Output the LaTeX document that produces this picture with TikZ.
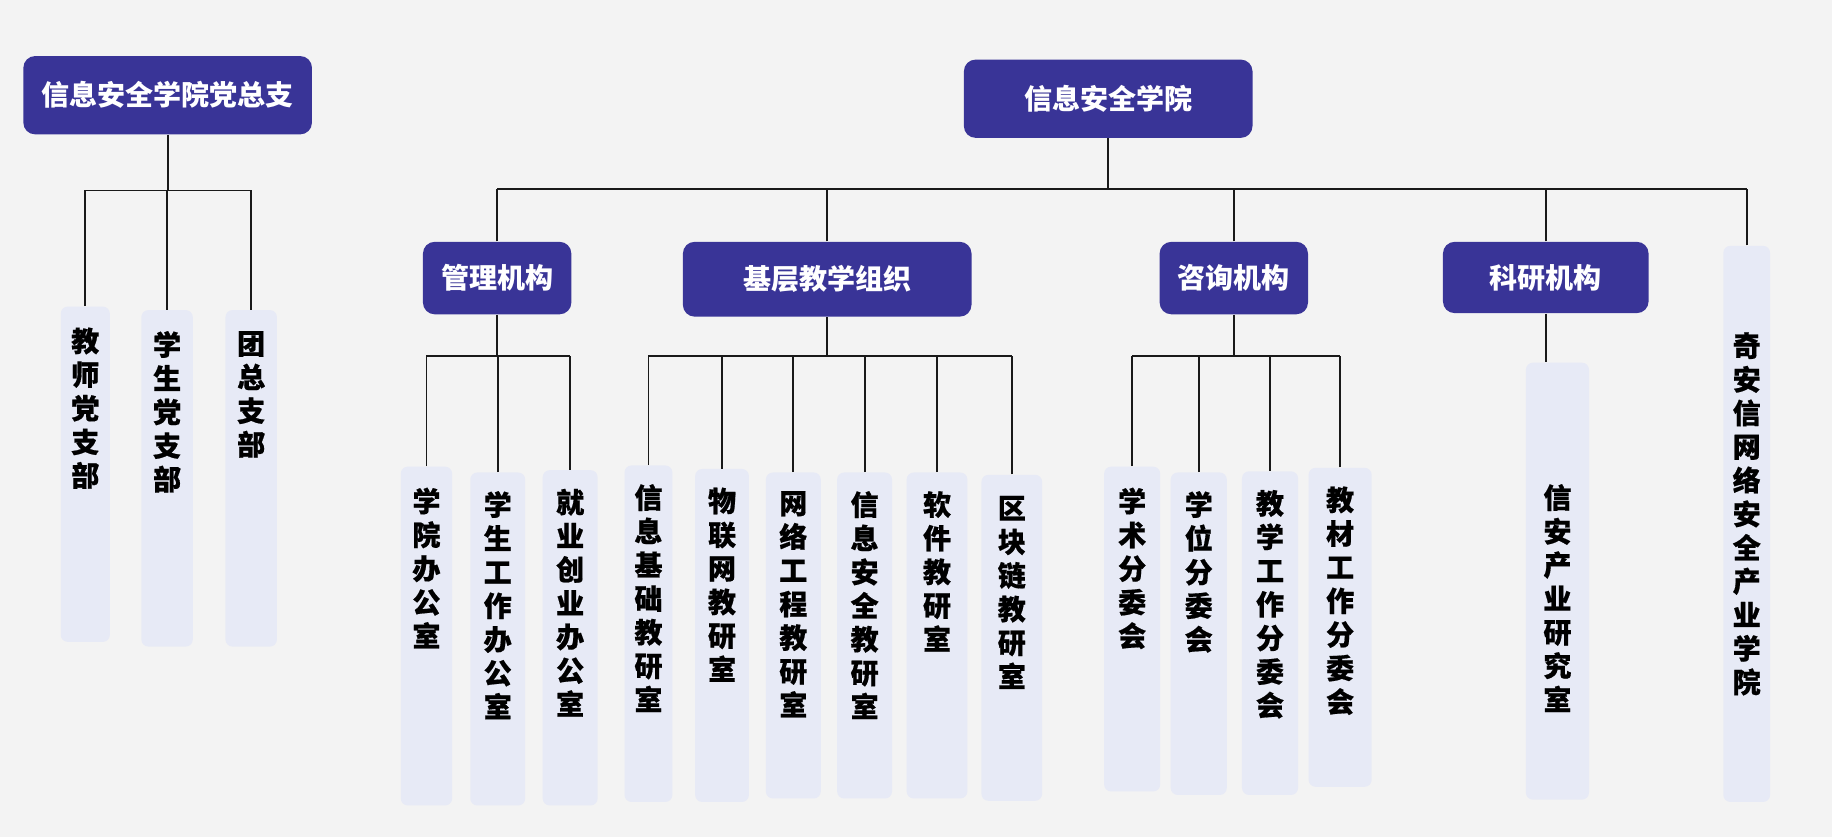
\documentclass[tikz,border=0pt]{standalone}
\usepackage{fontspec}
\setmainfont{Noto Sans CJK SC}
\newfontfamily\leafcjk{Noto Sans CJK SC}[FakeBold=0.6]
\usepackage{tikz}

\definecolor{hdbg}{RGB}{57,52,151}
\definecolor{leafbg}{RGB}{231,234,246}
\definecolor{pagebg}{RGB}{243,243,243}
\definecolor{wire}{RGB}{25,25,25}
\newcommand{\vlabel}[3]{\parbox[t][#1][t]{1em}{\centering\vspace*{#2}#3}}

\begin{document}
\begin{tikzpicture}[x=0.5pt, y=-0.5pt,
  hdr/.style={fill=hdbg, text=white, rounded corners=5pt, inner sep=0pt,
    font=\fontsize{12}{14}\selectfont\bfseries},
  leaf/.style={anchor=north, fill=leafbg, rounded corners=3pt, inner sep=0pt,
    font=\leafcjk\fontsize{12}{14.4}\selectfont\bfseries},
  wire/.style={draw=wire, line width=0.8pt}]

  \fill[pagebg] (0,0) rectangle (1568,716);
  \useasboundingbox (0,0) rectangle (1568,716);

  \node[hdr, minimum width=123.5pt, minimum height=33.5pt] (proot) at (143.5,81.5) {信息安全学院党总支};
  \node[hdr, minimum width=123.5pt, minimum height=33.5pt] (root) at (948.5,84.5) {信息安全学院};
  \node[hdr, minimum width=63.5pt, minimum height=31pt] (mgmt) at (425.5,238) {管理机构};
  \node[hdr, minimum width=123.5pt, minimum height=32pt] (teach) at (708,239) {基层教学组织};
  \node[hdr, minimum width=63.5pt, minimum height=31pt] (advis) at (1056,238) {咨询机构};
  \node[hdr, minimum width=88pt, minimum height=30.5pt] (resch) at (1323,237.5) {科研机构};

  \node[leaf, minimum width=21pt] (t1) at (73,262) {\vlabel{143.5pt}{9pt}{教\\师\\党\\支\\部}};
  \node[leaf, minimum width=22pt] (t2) at (143,265) {\vlabel{144pt}{9pt}{学\\生\\党\\支\\部}};
  \node[leaf, minimum width=22pt] (t3) at (215,265) {\vlabel{144pt}{9pt}{团\\总\\支\\部}};

  \node[leaf, minimum width=22pt] (m1) at (365,399) {\vlabel{145pt}{9pt}{学\\院\\办\\公\\室}};
  \node[leaf, minimum width=23.5pt] (m2) at (426,404) {\vlabel{142.5pt}{8pt}{学\\生\\工\\作\\办\\公\\室}};
  \node[leaf, minimum width=23.5pt] (m3) at (488,402) {\vlabel{143.5pt}{8pt}{就\\业\\创\\业\\办\\公\\室}};

  \node[leaf, minimum width=20.5pt] (s1) at (555,398) {\vlabel{144pt}{8pt}{信\\息\\基\\础\\教\\研\\室}};
  \node[leaf, minimum width=23pt] (s2) at (618,401) {\vlabel{142.5pt}{8pt}{物\\联\\网\\教\\研\\室}};
  \node[leaf, minimum width=23.5pt] (s3) at (679,404) {\vlabel{139.5pt}{8pt}{网\\络\\工\\程\\教\\研\\室}};
  \node[leaf, minimum width=23.5pt] (s4) at (740,404) {\vlabel{139.5pt}{8pt}{信\\息\\安\\全\\教\\研\\室}};
  \node[leaf, minimum width=26pt] (s5) at (802,404) {\vlabel{139.5pt}{8pt}{软\\件\\教\\研\\室}};
  \node[leaf, minimum width=26pt] (s6) at (866,406) {\vlabel{139.5pt}{9pt}{区\\块\\链\\教\\研\\室}};

  \node[leaf, minimum width=24pt] (a1) at (969,399) {\vlabel{139pt}{9pt}{学\\术\\分\\委\\会}};
  \node[leaf, minimum width=24pt] (a2) at (1026,404) {\vlabel{138pt}{8pt}{学\\位\\分\\委\\会}};
  \node[leaf, minimum width=24pt] (a3) at (1087,403) {\vlabel{138.5pt}{8pt}{教\\学\\工\\作\\分\\委\\会}};
  \node[leaf, minimum width=27pt] (a4) at (1147,400) {\vlabel{136.5pt}{8pt}{教\\材\\工\\作\\分\\委\\会}};

  \node[leaf, minimum width=27pt] (r1) at (1333,310) {\vlabel{187pt}{52pt}{信\\安\\产\\业\\研\\究\\室}};
  \node[leaf, minimum width=20pt] (q1) at (1495,210) {\vlabel{238pt}{37pt}{奇\\安\\信\\网\\络\\安\\全\\产\\业\\学\\院}};

  \coordinate (pbus) at (0,163);
  \coordinate (mbus) at (0,162);
  \coordinate (lbus) at (0,305);

  \draw[wire] (proot.south) -- (proot.south |- pbus);
  \draw[wire] (t1.north |- pbus) -- (t3.north |- pbus);
  \foreach \n in {t1,t2,t3}
    \draw[wire] (\n.north) -- (\n.north |- pbus);

  \draw[wire] (root.south) -- (root.south |- mbus);
  \draw[wire] (mgmt.north |- mbus) -- (q1.north |- mbus);
  \foreach \n in {mgmt,teach,advis,resch,q1}
    \draw[wire] (\n.north) -- (\n.north |- mbus);

  \draw[wire] (mgmt.south) -- (mgmt.south |- lbus);
  \draw[wire] (m1.north |- lbus) -- (m3.north |- lbus);
  \foreach \n in {m1,m2,m3}
    \draw[wire] (\n.north) -- (\n.north |- lbus);

  \draw[wire] (teach.south) -- (teach.south |- lbus);
  \draw[wire] (s1.north |- lbus) -- (s6.north |- lbus);
  \foreach \n in {s1,s2,s3,s4,s5,s6}
    \draw[wire] (\n.north) -- (\n.north |- lbus);

  \draw[wire] (advis.south) -- (advis.south |- lbus);
  \draw[wire] (a1.north |- lbus) -- (a4.north |- lbus);
  \foreach \n in {a1,a2,a3,a4}
    \draw[wire] (\n.north) -- (\n.north |- lbus);

  \draw[wire] (resch.south) -- (resch.south |- r1.north);

\end{tikzpicture}
\end{document}
